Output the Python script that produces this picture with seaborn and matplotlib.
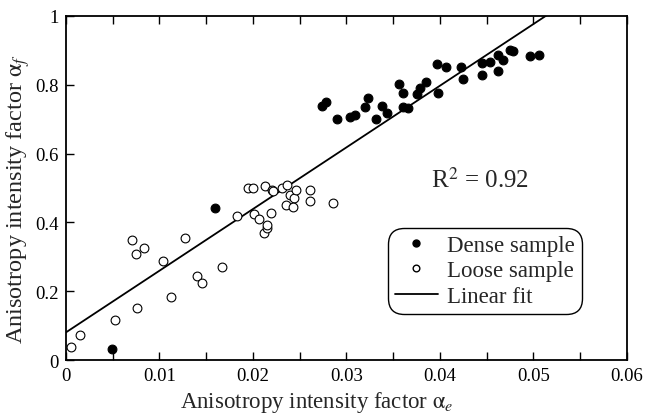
import numpy as np
import pandas as pd
import matplotlib
matplotlib.use("Agg")
import matplotlib.pyplot as plt
import seaborn as sns
from matplotlib.lines import Line2D
from matplotlib.ticker import MultipleLocator

# ---- data ----
dense_x = [0.00495, 0.0160, 0.02735, 0.0278, 0.02905, 0.0304, 0.0309, 0.0320,
           0.0323, 0.0338, 0.0332, 0.0343, 0.0356, 0.0361, 0.0361, 0.0366,
           0.0376, 0.0379, 0.0385, 0.0397, 0.0398, 0.0407, 0.0423, 0.0425,
           0.0445, 0.0454, 0.0445, 0.0462, 0.0468, 0.0462, 0.0475, 0.0478,
           0.0496, 0.0506]
dense_y = [0.031, 0.441, 0.739, 0.749, 0.700, 0.705, 0.712, 0.735,
           0.762, 0.737, 0.700, 0.717, 0.802, 0.776, 0.735, 0.733,
           0.773, 0.790, 0.807, 0.860, 0.776, 0.851, 0.851, 0.817,
           0.863, 0.867, 0.828, 0.887, 0.872, 0.841, 0.901, 0.899,
           0.883, 0.887]

loose_x = [0.0006, 0.00157, 0.0053, 0.0071, 0.0075, 0.0084, 0.0076, 0.0104,
           0.0112, 0.0127, 0.0140, 0.0146, 0.0167, 0.0183, 0.0195, 0.0200,
           0.0201, 0.0207, 0.0213, 0.0212, 0.0215, 0.0215, 0.0219, 0.0220,
           0.0222, 0.0231, 0.0237, 0.0235, 0.0240, 0.0244, 0.0246, 0.0243,
           0.0261, 0.0261, 0.0286]
loose_y = [0.037, 0.074, 0.115, 0.348, 0.308, 0.326, 0.151, 0.289,
           0.184, 0.356, 0.243, 0.224, 0.269, 0.418, 0.500, 0.500,
           0.424, 0.409, 0.505, 0.369, 0.383, 0.392, 0.427, 0.495,
           0.492, 0.500, 0.509, 0.451, 0.481, 0.471, 0.494, 0.445,
           0.495, 0.463, 0.456]

fit_intercept = 0.080
fit_slope = 17.93
r_squared = 0.92

x_ticks = [0, 0.01, 0.02, 0.03, 0.04, 0.05, 0.06]
x_tick_labels = ["0", "0.01", "0.02", "0.03", "0.04", "0.05", "0.06"]
y_ticks = [0, 0.2, 0.4, 0.6, 0.8, 1.0]
y_tick_labels = ["0", "0.2", "0.4", "0.6", "0.8", "1"]
legend_labels = ["Dense sample", "Loose sample", "Linear fit"]

# ---- styling ----
sns.set_style("ticks")
plt.rcParams["font.family"] = ["Liberation Serif", "DejaVu Serif"]
plt.rcParams["mathtext.fontset"] = "stix"

dense_df = pd.DataFrame({"x": dense_x, "y": dense_y})
loose_df = pd.DataFrame({"x": loose_x, "y": loose_y})
fit_x = np.array([0.0, 0.06])
fit_df = pd.DataFrame({"x": fit_x, "y": fit_intercept + fit_slope * fit_x})

fig = plt.figure(figsize=(6.45, 4.14), dpi=100)
ax = fig.add_axes([0.102, 0.128, 0.870, 0.831])

sns.lineplot(data=fit_df, x="x", y="y", ax=ax, color="black", lw=1.3, zorder=2)
sns.scatterplot(data=loose_df, x="x", y="y", ax=ax, s=40, facecolor="white",
                edgecolor="black", linewidth=0.8, zorder=3)
sns.scatterplot(data=dense_df, x="x", y="y", ax=ax, s=40, color="black",
                edgecolor="black", linewidth=0.8, zorder=4)

ax.set_xlim(0, 0.06)
ax.set_ylim(0, 1)
ax.set_xticks(x_ticks)
ax.set_xticklabels(x_tick_labels)
ax.set_yticks(y_ticks)
ax.set_yticklabels(y_tick_labels)
ax.xaxis.set_minor_locator(MultipleLocator(0.005))
ax.xaxis.set_ticks_position("both")
ax.yaxis.set_ticks_position("left")
ax.tick_params(axis="both", which="both", direction="in", labelsize=13.5,
               width=1.0, length=6, color="black", labelcolor="black")
ax.tick_params(axis="x", which="major", pad=5)
ax.tick_params(axis="y", which="major", pad=5)
for sp in ax.spines.values():
    sp.set_visible(True)
    sp.set_linewidth(1.3)
    sp.set_color("black")

ax.set_xlabel(r"Anisotropy intensity factor $\mathrm{\alpha}_{e}$", fontsize=16.5)
ax.xaxis.set_label_coords(0.447, -0.085)
ax.set_ylabel(r"Anisotropy intensity factor $\mathrm{\alpha}_{f}$", fontsize=17.5)
ax.yaxis.set_label_coords(-0.060, 0.47)

ax.text(0.0391, 0.526, "R$^{2}$ = " + f"{r_squared:.2f}",
        fontsize=18, ha="left", va="center")

handles = [
    Line2D([], [], marker="o", ls="none", color="black", markersize=5),
    Line2D([], [], marker="o", ls="none", markerfacecolor="white",
           markeredgecolor="black", markersize=4.8, markeredgewidth=1.0),
    Line2D([], [], color="black", lw=1.3),
]
leg = ax.legend(handles, legend_labels,
                loc="lower right", bbox_to_anchor=(0.920, 0.134),
                borderaxespad=0, fontsize=16.5,
                frameon=True, fancybox=True, edgecolor="black",
                handlelength=1.9, handletextpad=0.4, labelspacing=0.2,
                borderpad=0.3)
leg.get_frame().set_linewidth(1.0)
leg.get_frame().set_alpha(1)
leg.get_frame().set_boxstyle("round,pad=0,rounding_size=0.7")

fig.savefig("out.png", dpi=100)
